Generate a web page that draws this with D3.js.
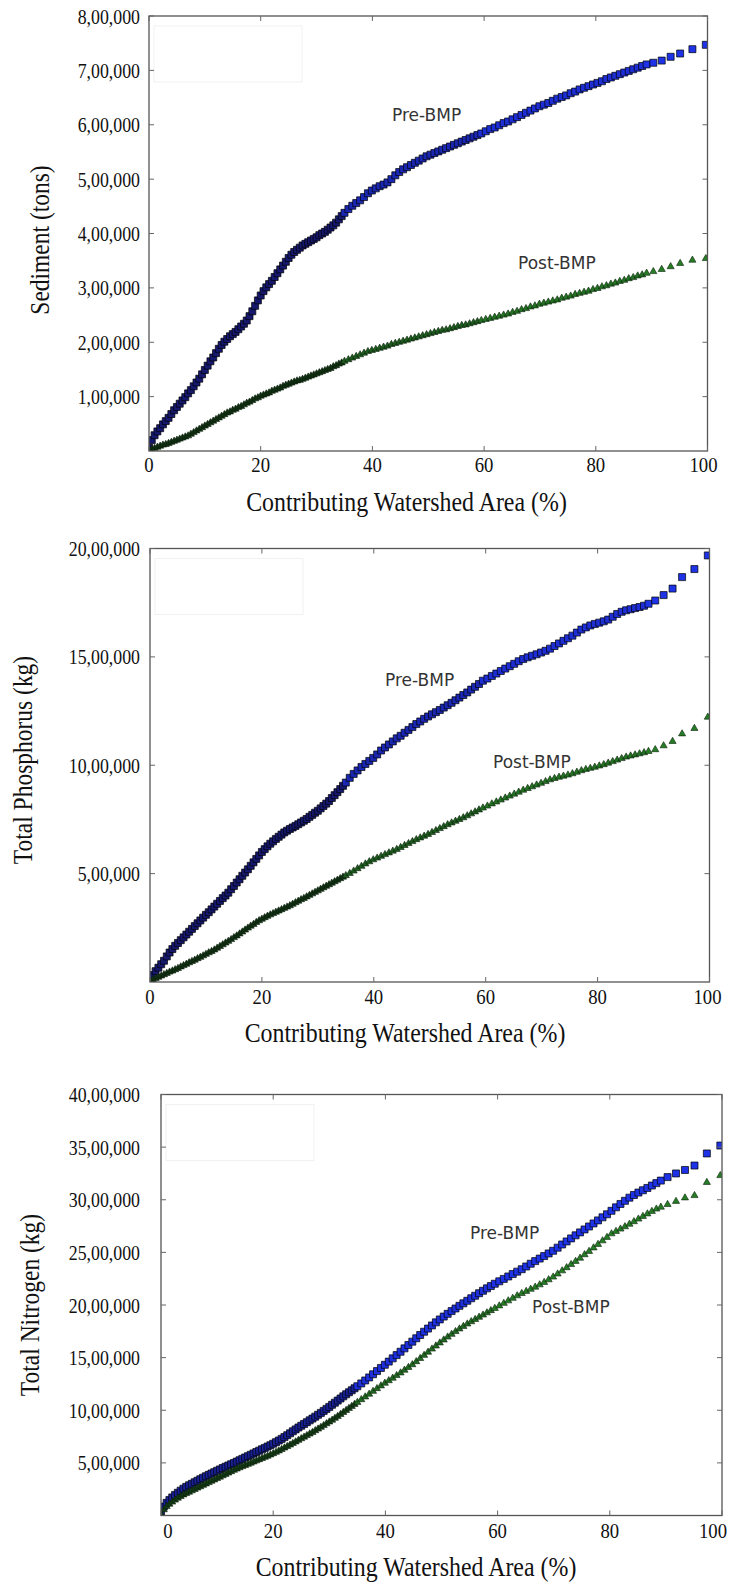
<!DOCTYPE html>
<html><head><meta charset="utf-8">
<script src="https://cdn.jsdelivr.net/npm/d3@7"></script>
<style>body{margin:0;background:#fff}svg{display:block}</style>
</head><body>
<svg id="c" width="731" height="1586"></svg>
<script>
// Cumulative contributing watershed area (%) – shared by all series
const areaPct = [
0,0.5,1,1.5,2,2.5,3,3.5,4,4.5,5,5.5,6,6.5,7,7.5,8,8.5,9,9.5,10,10.5,11,11.5,12,12.5,13,13.5,14,14.5,
15,15.5,16,16.5,17,17.5,18,18.5,19,19.5,20,20.5,21,21.5,22,22.5,23,23.5,24,24.5,25,25.5,26,26.5,27,27.5,28,28.5,29,29.5,
30,30.5,31,31.5,32,32.5,33,33.5,34,34.5,35,
35.7,36.4,37.1,37.8,38.5,39.2,39.9,40.6,41.3,42,42.7,43.4,44.1,44.8,45.5,46.2,46.9,47.6,48.3,49,49.7,50.4,51.1,51.8,52.5,53.2,53.9,54.6,55.3,56,56.7,57.4,58.1,58.8,59.5,
60.3,61.1,61.9,62.7,63.5,64.3,65.1,65.9,66.7,67.5,68.3,69.1,69.9,70.7,71.5,72.3,73.1,73.9,74.7,75.5,76.3,77.1,77.9,78.7,79.5,80.3,81.1,81.9,82.7,83.5,84.3,85.1,85.9,86.7,87.5,88.3,89.1,
90.3,91.8,93.4,95.1,97.3,99.7];

// Sediment, thousand tons
const sedimentPre = [
6,20,29,36,42,49,55,61,68,75,81,87,93,99,106,112,119,126,133,141,149,157,165,172,180,188,195,201,206,211,
215,219,224,229,234,240,248,257,267,277,286,294,301,307,313,320,327,334,341,348,355,361,366,370,374,378,381,384,387,390,
393,397,400,403,407,411,415,420,426,432,438,
445,451,456,461,467,474,479,483,487,490,494,500,507,513,518,522,526,530,534,538,542,545,548,551,554,557,560,563,566,569,572,575,578,581,584,
588,592,595,599,603,606,610,614,618,622,626,630,634,637,640,644,648,651,654,658,661,665,668,671,674,677,680,684,687,690,693,696,699,702,705,708,711,
714,718,725,731,739,747];
const sedimentPost = [
1,3,5,7,9,11,12,14,16,18,20,22,24,26,28,31,34,37,40,43,46,49,52,55,58,61,64,67,70,72,
75,77,80,82,85,88,90,93,96,98,101,103,105,107,110,112,114,116,119,121,123,125,127,129,130,132,134,136,138,140,
142,144,146,148,150,152,155,157,160,162,165,
168,171,174,177,180,183,185,187,189,191,193,196,198,200,202,204,206,208,210,212,214,216,218,220,222,223,225,227,229,231,232,234,236,238,240,
242,244,246,248,250,252,255,257,260,262,265,267,270,272,274,276,278,281,283,285,288,290,292,294,297,299,302,304,307,309,312,314,317,319,322,324,327,
330,334,339,345,351,354];

// Total phosphorus, thousand kg
const phosphorusPre = [
8,32,50,66,82,98,118,136,152,167,180,193,206,219,232,245,258,271,284,297,310,322,335,348,361,374,387,399,412,428,
443,459,474,490,505,520,536,552,568,584,600,613,626,638,649,660,670,680,690,698,706,713,720,728,736,744,752,762,771,781,
790,801,812,823,835,849,862,876,890,905,920,
942,960,976,992,1006,1020,1034,1050,1068,1082,1096,1110,1124,1136,1150,1163,1176,1190,1202,1214,1225,1235,1245,1255,1266,1277,1288,1300,1312,1324,1336,1349,1362,1375,1390,
1400,1412,1423,1435,1446,1457,1468,1480,1490,1498,1505,1512,1520,1528,1538,1550,1562,1574,1586,1598,1612,1626,1636,1645,1652,1658,1664,1672,1685,1698,1708,1715,1720,1725,1730,1736,1745,
1760,1785,1815,1868,1905,1968];
const phosphorusPost = [
3,10,16,22,28,34,40,46,51,57,63,70,76,82,89,95,101,108,114,121,128,135,141,148,156,164,172,180,188,196,
205,213,222,231,240,249,258,266,275,283,290,297,304,310,316,322,328,334,340,346,352,359,366,373,380,386,393,400,407,414,
421,428,435,442,449,456,463,470,477,484,491,
501,512,523,534,545,555,564,572,580,588,596,604,612,621,630,639,648,657,665,673,681,690,699,708,717,726,734,742,750,758,767,776,785,794,803,
812,822,831,840,849,858,867,876,885,893,901,909,917,925,933,939,945,950,955,961,968,975,981,986,991,997,1003,1010,1017,1024,1031,1038,1043,1048,1053,1058,1064,
1072,1090,1110,1145,1170,1222];

// Total nitrogen, thousand kg
const nitrogenPre = [
35,85,120,148,172,195,216,236,255,272,287,301,316,330,345,359,373,386,399,412,425,438,451,463,475,487,499,512,525,538,
551,564,577,590,603,616,629,642,655,668,682,697,712,728,745,763,781,800,818,836,853,870,887,904,921,939,957,975,994,1013,
1032,1052,1072,1092,1112,1132,1152,1171,1190,1209,1228,
1255,1283,1312,1342,1372,1402,1432,1462,1493,1524,1556,1588,1620,1652,1684,1715,1746,1776,1806,1835,1863,1890,1916,1942,1967,1992,2016,2040,2064,2088,2112,2135,2158,2180,2202,
2225,2248,2271,2294,2317,2340,2366,2392,2417,2441,2465,2490,2515,2545,2575,2604,2633,2662,2690,2718,2746,2775,2804,2833,2862,2895,2928,2960,2990,3020,3045,3068,3090,3112,3135,3158,3182,
3215,3250,3283,3325,3440,3515];
const nitrogenPost = [
15,55,85,108,128,147,165,181,196,209,222,235,248,261,274,287,300,313,326,339,352,365,378,391,404,417,430,442,454,465,
476,487,498,509,520,531,542,553,564,576,588,601,614,628,642,656,670,685,700,715,730,745,760,775,790,806,822,838,855,872,
889,906,924,942,961,980,999,1018,1037,1056,1075,
1101,1127,1153,1180,1206,1232,1257,1281,1305,1330,1355,1381,1407,1433,1462,1492,1522,1552,1582,1611,1640,1668,1696,1722,1748,1773,1797,1820,1842,1863,1884,1905,1926,1947,1968,
1992,2016,2040,2064,2088,2110,2130,2150,2170,2192,2215,2240,2266,2295,2325,2355,2385,2415,2445,2478,2510,2543,2576,2610,2643,2677,2700,2722,2744,2768,2792,2817,2842,2866,2890,2912,2930,
2955,2985,3018,3040,3165,3230];

const xTicks = [0,20,40,60,80,100];
const xTickLabels = ["0","20","40","60","80","100"];
const sedimentTicks = [100,200,300,400,500,600,700,800];
const sedimentTickLabels = ["1,00,000","2,00,000","3,00,000","4,00,000","5,00,000","6,00,000","7,00,000","8,00,000"];
const phosphorusTicks = [500,1000,1500,2000];
const phosphorusTickLabels = ["5,00,000","10,00,000","15,00,000","20,00,000"];
const nitrogenTicks = [500,1000,1500,2000,2500,3000,3500,4000];
const nitrogenTickLabels = ["5,00,000","10,00,000","15,00,000","20,00,000","25,00,000","30,00,000","35,00,000","40,00,000"];
const xTitle = "Contributing Watershed Area (%)";
const seriesNames = ["Pre-BMP","Post-BMP"];

const panels = [
  {pre:sedimentPre, post:sedimentPost, yMax:800, yTicks:sedimentTicks, yLabels:sedimentTickLabels,
   yTitle:"Sediment (tons)", box:{l:149,r:707.5,t:16,b:451}, yLabelRight:140,
   yTitlePos:[39,240], yTitleSize:27, yTitleStretch:0.87,
   xTickY:472, xEdge:[0,-4], xTitlePos:[406.5,511], preLab:[392,121], postLab:[518,269], darkShift:0},
  {pre:phosphorusPre, post:phosphorusPost, yMax:2000, yTicks:phosphorusTicks, yLabels:phosphorusTickLabels,
   yTitle:"Total Phosphorus (kg)", box:{l:150,r:709.5,t:548.5,b:982}, yLabelRight:140,
   yTitlePos:[22,760], yTitleSize:27, yTitleStretch:0.87,
   xTickY:1004, xEdge:[0,-2], xTitlePos:[405,1042], preLab:[385,686], postLab:[493,768], darkShift:0},
  {pre:nitrogenPre, post:nitrogenPost, yMax:4000, yTicks:nitrogenTicks, yLabels:nitrogenTickLabels,
   yTitle:"Total Nitrogen (kg)", box:{l:161,r:722,t:1094.5,b:1515.5}, yLabelRight:140,
   yTitlePos:[29,1305], yTitleSize:27, yTitleStretch:0.87,
   xTickY:1538, xEdge:[7,-9], xTitlePos:[416,1576], preLab:[470,1239], postLab:[532,1313], darkShift:0.3}
];

const svg = d3.select("#c");
const defs = svg.append("defs");
const SERIF = "'Liberation Serif','Times New Roman',serif";
const blue = "#1e32e6", darkBlue = "#14145a";
const green = "#267d26", darkGreen = "#0e2410";
const sq = d3.symbol().type(d3.symbolSquare).size(49)();
const tri = d3.symbol().type(d3.symbolTriangle).size(22)();

function gapAt(i){
  return i < areaPct.length-1 ? areaPct[i+1]-areaPct[i] : areaPct[i]-areaPct[i-1];
}
function fillFor(i, dark, light, shift){
  const t = Math.max(0, Math.min(1, (gapAt(i)-0.45)/0.4 + shift));
  return d3.interpolateRgb(dark, light)(t);
}

panels.forEach((p, pi) => {
  const x = d3.scaleLinear().domain([0,100]).range([p.box.l, p.box.r]);
  const y = d3.scaleLinear().domain([0,p.yMax]).range([p.box.b, p.box.t]);
  const g = svg.append("g");

  defs.append("clipPath").attr("id","clip"+pi).append("rect")
    .attr("x",p.box.l).attr("y",p.box.t)
    .attr("width",p.box.r-p.box.l).attr("height",p.box.b-p.box.t);

  // faint ghost legend box
  g.append("rect").attr("x",p.box.l+5).attr("y",p.box.t+10)
    .attr("width",148).attr("height",56).attr("fill","none").attr("stroke","#f1f1f1");

  const n = Math.min(areaPct.length, p.pre.length, p.post.length);
  const idx = d3.range(n);
  const mg = g.append("g").attr("clip-path",`url(#clip${pi})`);
  mg.selectAll("path.pre").data(idx).join("path").attr("class","pre")
    .attr("d", sq)
    .attr("transform", i => `translate(${x(areaPct[i])},${y(p.pre[i])})`)
    .attr("fill", i => fillFor(i, darkBlue, blue, p.darkShift))
    .attr("stroke","#000").attr("stroke-width",0.7);
  mg.selectAll("path.post").data(idx).join("path").attr("class","post")
    .attr("d", tri)
    .attr("transform", i => `translate(${x(areaPct[i])},${y(p.post[i])})`)
    .attr("fill", i => fillFor(i, darkGreen, green, p.darkShift*0.5))
    .attr("stroke","#0a200a").attr("stroke-width",0.6);

  // frame
  g.append("rect").attr("x",p.box.l).attr("y",p.box.t)
    .attr("width",p.box.r-p.box.l).attr("height",p.box.b-p.box.t)
    .attr("fill","none").attr("stroke","#555").attr("stroke-width",1.3);

  // inward ticks
  const tk = g.append("g").attr("stroke","#666").attr("stroke-width",1);
  xTicks.forEach(t => {
    tk.append("line").attr("x1",x(t)).attr("x2",x(t)).attr("y1",p.box.b).attr("y2",p.box.b-5);
    tk.append("line").attr("x1",x(t)).attr("x2",x(t)).attr("y1",p.box.t).attr("y2",p.box.t+5);
  });
  p.yTicks.forEach(t => {
    tk.append("line").attr("x1",p.box.l).attr("x2",p.box.l+5).attr("y1",y(t)).attr("y2",y(t));
    tk.append("line").attr("x1",p.box.r).attr("x2",p.box.r-5).attr("y1",y(t)).attr("y2",y(t));
  });

  // y tick labels
  g.selectAll("text.yt").data(p.yTicks).join("text").attr("class","yt")
    .attr("transform", d => `translate(${p.yLabelRight},${y(d)}) scale(0.87,1.05)`)
    .attr("text-anchor","end").attr("dy","0.35em")
    .attr("font-family",SERIF).attr("font-size",20.5).attr("fill","#111")
    .text((d,i) => p.yLabels[i]);

  // x tick labels
  const last = xTicks.length-1;
  g.selectAll("text.xt").data(xTicks).join("text").attr("class","xt")
    .attr("transform", (d,i) => {
      const sh = i===0 ? p.xEdge[0] : (i===last ? p.xEdge[1] : 0);
      return `translate(${x(d)+sh},${p.xTickY}) scale(0.87,1)`;
    })
    .attr("text-anchor","middle")
    .attr("font-family",SERIF).attr("font-size",21.5).attr("fill","#111")
    .text((d,i) => xTickLabels[i]);

  // x title
  g.append("text")
    .attr("transform",`translate(${p.xTitlePos[0]},${p.xTitlePos[1]}) scale(0.885,1)`)
    .attr("text-anchor","middle").attr("font-family",SERIF).attr("font-size",27).attr("fill","#111")
    .text(xTitle);

  // y title
  g.append("text")
    .attr("transform",`translate(${p.yTitlePos[0]},${p.yTitlePos[1]}) rotate(-90) scale(${p.yTitleStretch},1)`)
    .attr("text-anchor","middle").attr("dominant-baseline","central")
    .attr("font-family",SERIF).attr("font-size",p.yTitleSize).attr("fill","#111")
    .text(p.yTitle);

  // series annotations
  g.append("text").attr("x",p.preLab[0]).attr("y",p.preLab[1])
    .attr("font-family","'DejaVu Sans',sans-serif").attr("font-size",17).attr("fill","#333")
    .text(seriesNames[0]);
  g.append("text").attr("x",p.postLab[0]).attr("y",p.postLab[1])
    .attr("font-family","'DejaVu Sans',sans-serif").attr("font-size",17).attr("fill","#333")
    .text(seriesNames[1]);
});
</script>
</body></html>
